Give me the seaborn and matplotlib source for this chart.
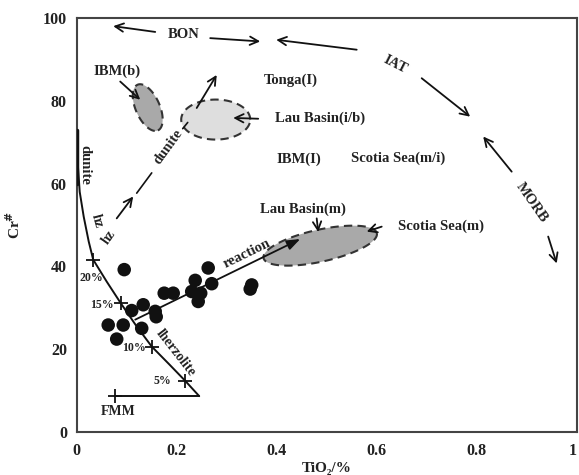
import numpy as np
import pandas as pd
import matplotlib
matplotlib.use('Agg')
import matplotlib.pyplot as plt
import seaborn as sns

# Spinel data: TiO2 (%) vs Cr#
tio2 = [0.095, 0.063, 0.093, 0.080, 0.110, 0.133, 0.130, 0.157, 0.159,
        0.175, 0.193, 0.237, 0.230, 0.248, 0.243, 0.263, 0.270, 0.347, 0.350]
cr = [39.2, 25.8, 25.8, 22.4, 29.3, 30.7, 25.0, 29.1, 27.8,
      33.5, 33.5, 36.6, 33.9, 33.5, 31.5, 39.6, 35.8, 34.5, 35.5]

# FMM partial melting trend
melt_tio2 = [0.000, 0.002, 0.006, 0.014, 0.024, 0.033, 0.060, 0.088,
             0.118, 0.150, 0.185, 0.217, 0.245]
melt_cr = [73.0, 65.0, 58.0, 52.0, 46.0, 41.6, 36.3, 31.1,
           25.8, 20.6, 16.3, 12.3, 8.6]
fmm_tio2 = [0.077, 0.245]
fmm_cr = [8.6, 8.6]

# melting degree marks
mark_tio2 = [0.033, 0.088, 0.150, 0.217, 0.077]
mark_cr = [41.6, 31.1, 20.6, 12.3, 8.6]

W, H = 579, 475
fig = plt.figure(figsize=(W / 100, H / 100), dpi=100)
sns.set_style('white')
plt.rcParams['font.family'] = ['Liberation Serif', 'DejaVu Serif']
plt.rcParams['font.weight'] = 'bold'
ax = fig.add_axes([0.1325, 0.0912, 0.8635, 0.8703])

ax.set_xlim(0, 1)
ax.set_ylim(0, 100)

# pixel scale, used for shapes drawn in screen proportions
sx = 0.8635 * W
sy = 0.8703 * H / 100


def ellipse(cx, cy, a, b, angle, fc):
    t = np.linspace(0, 2 * np.pi, 200)
    th = np.deg2rad(angle)
    u = a * np.cos(t)
    v = b * np.sin(t)
    x = cx + (u * np.cos(th) - v * np.sin(th)) / sx
    y = cy + (u * np.sin(th) + v * np.cos(th)) / sy
    ax.fill(x, y, facecolor=fc, edgecolor='#333333', lw=1.5,
            ls=(0, (4, 2.5)), zorder=1)


ellipse(0.142, 78.4, 25, 12, -66, '#a9a9a9')
ellipse(0.278, 75.5, 34.5, 20, 0, '#dedede')
ellipse(0.487, 45.0, 58, 16, 12.4, '#a9a9a9')

melt = pd.DataFrame({'x': melt_tio2, 'y': melt_cr})
sns.lineplot(data=melt, x='x', y='y', sort=False, color='#111111', lw=1.4,
             ax=ax, zorder=3)
sns.lineplot(x=fmm_tio2, y=fmm_cr, sort=False, color='#111111', lw=1.4,
             ax=ax, zorder=3)
ax.plot([0.0, 0.0], [60, 73], color='#111111', lw=2.5, zorder=3)
ax.scatter(mark_tio2, mark_cr, marker='+', s=90, color='#111111', lw=1.3,
           zorder=4)

sns.scatterplot(x=tio2, y=cr, s=95, color='#111111', edgecolor='none',
                ax=ax, zorder=5)

tk = dict(fontsize=8.5, fontweight='bold', color='#222222')
ax.text(0.030, 37.1, '20%', ha='center', va='center', **tk)
ax.text(0.050, 30.7, '15%', ha='center', va='center', **tk)
ax.text(0.115, 20.2, '10%', ha='center', va='center', **tk)
ax.text(0.171, 12.3, '5%', ha='center', va='center', **tk)
ax.text(0.082, 5.0, 'FMM', ha='center', va='center', fontsize=10,
        fontweight='bold', color='#222222')

arr = dict(arrowstyle='->,head_length=0.6,head_width=0.3', color='#111111',
           lw=1.3, shrinkA=0, shrinkB=0)


def arrow(x0, y0, x1, y1, style=arr):
    ax.annotate('', xy=(x1, y1), xytext=(x0, y0), arrowprops=style, zorder=6)


# reaction trend
arrow(0.117, 27.1, 0.447, 46.6,
      dict(arr, arrowstyle='-|>,head_length=0.8,head_width=0.3'))
ax.text(0.34, 43.0, 'reaction', rotation=26, ha='center', va='center',
        fontsize=10.5, fontweight='bold', color='#222222')
ax.text(0.197, 19.0, 'lherzolite', rotation=-52, ha='center', va='center',
        fontsize=10, fontweight='bold', color='#222222')

# hz -> dunite path
arrow(0.080, 51.6, 0.113, 56.9)
ax.plot([0.120, 0.150], [57.7, 62.6], color='#111111', lw=1.2)
ax.plot([0.212, 0.222], [73.3, 74.8], color='#111111', lw=1.2)
ax.text(0.183, 68.8, 'dunite', rotation=54, ha='center', va='center',
        fontsize=10.5, fontweight='bold', color='#222222')
ax.text(0.017, 64.5, 'dunite', rotation=-90, ha='center', va='center',
        fontsize=10.5, fontweight='bold', color='#222222')
ax.text(0.040, 51.0, 'hz', rotation=-75, ha='center', va='center',
        fontsize=10, fontweight='bold', color='#222222')
ax.text(0.064, 47.0, 'hz', rotation=55, ha='center', va='center',
        fontsize=10, fontweight='bold', color='#222222')

lab = dict(fontsize=10.5, fontweight='bold', color='#222222',
           ha='center', va='center')
ax.text(0.080, 87.2, 'IBM(b)', **lab)
arrow(0.087, 84.7, 0.127, 80.3)
arrow(0.240, 78.3, 0.280, 86.3)
ax.text(0.213, 96.1, 'BON', **lab)
arrow(0.157, 96.7, 0.073, 98.1)
arrow(0.267, 95.2, 0.367, 94.4)
arrow(0.560, 92.4, 0.399, 94.8)
ax.text(0.638, 88.8, 'IAT', rotation=-27, **lab)
arrow(0.690, 85.5, 0.787, 76.2)
ax.text(0.910, 55.4, 'MORB', rotation=-55, **lab)
arrow(0.870, 62.9, 0.813, 71.4)
arrow(0.943, 47.2, 0.960, 40.7)
ax.text(0.428, 84.9, 'Tonga(I)', **lab)
ax.text(0.487, 75.7, 'Lau Basin(i/b)', **lab)
arrow(0.363, 75.7, 0.313, 75.9)
ax.text(0.445, 65.9, 'IBM(I)', **lab)
ax.text(0.643, 66.1, 'Scotia Sea(m/i)', **lab)
ax.text(0.453, 53.7, 'Lau Basin(m)', **lab)
arrow(0.480, 51.6, 0.483, 48.3)
ax.text(0.728, 49.6, 'Scotia Sea(m)', **lab)
arrow(0.610, 49.6, 0.580, 48.4)

ax.set_xticks([0, 0.2, 0.4, 0.6, 0.8, 1])
ax.set_xticklabels(['0', '0.2', '0.4', '0.6', '0.8', '1'])
ax.set_yticks([0, 20, 40, 60, 80, 100])
ax.tick_params(axis='x', direction='in', length=5, width=1.2, pad=8,
               labelsize=11.5, colors='#333333')
ax.tick_params(axis='y', direction='out', length=5, width=1.2, pad=2,
               labelsize=11.5, colors='#333333')
for lbl in ax.get_xticklabels() + ax.get_yticklabels():
    lbl.set_fontweight('bold')
    lbl.set_color('#222222')
ax.get_xticklabels()[-1].set_horizontalalignment('right')
for s in ax.spines.values():
    s.set_visible(True)
    s.set_color('#444444')
    s.set_linewidth(1.5)

ax.set_xlabel('TiO₂/%', fontsize=11, fontweight='bold',
              labelpad=2, color='#222222')
ax.set_ylabel('Cr$^\\mathbf{\\#}$', fontsize=11, fontweight='bold',
              labelpad=14, color='#222222')

fig.savefig('out.png', dpi=100)
